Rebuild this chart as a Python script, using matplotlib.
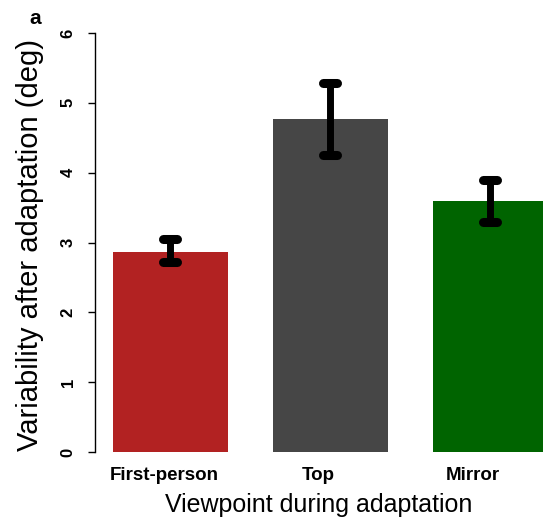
import matplotlib
matplotlib.use('agg')
import matplotlib.pyplot as plt
from matplotlib.transforms import ScaledTranslation

plt.rcParams['font.family'] = ['Liberation Sans', 'DejaVu Sans']

conditions = ["First-person", "Top", "Mirror"]
means = [2.87, 4.77, 3.59]
err_low = [2.72, 4.26, 3.29]
err_high = [3.05, 5.29, 3.89]
colors = ['#B22222', '#464646', '#006400']

fig = plt.figure(figsize=(5.43, 5.21), dpi=100)
# axes placed by hand so the last bar is cut by the right edge like in the reference
ax = fig.add_axes([95 / 543, (521 - 452) / 521, 1 - 95 / 543, (452 - 33) / 521])

x = list(range(len(conditions)))
ax.bar(x, means, width=0.72, color=colors, edgecolor='none')
for xi, lo, hi in zip(x, err_low, err_high):
    ax.plot([xi, xi], [lo, hi], color='black', lw=5, solid_capstyle='butt', zorder=3)
    for yy in (lo, hi):
        ax.plot([xi - 0.045, xi + 0.045], [yy, yy], color='black', lw=6.5,
                solid_capstyle='round', zorder=3)

ax.set_xlim(-0.47, 2.33)
ax.set_ylim(0, 6)
ax.set_yticks(range(7))
ax.set_yticklabels([str(v) for v in range(7)], rotation=90, va='center',
                   fontsize=12, fontweight='bold')
ax.tick_params(axis='y', length=5, width=1, pad=9)
ax.set_xticks(x)
ax.set_xticklabels(conditions, fontsize=13.5, fontweight='bold')
ax.tick_params(axis='x', length=0, pad=11)
# the category names sit a little left of the bar centres in the original
for lbl, dx in zip(ax.get_xticklabels(), [-6, -12, -17]):
    lbl.set_transform(lbl.get_transform() + ScaledTranslation(dx / 100, 0, fig.dpi_scale_trans))

for s in ['top', 'right', 'bottom']:
    ax.spines[s].set_visible(False)
ax.spines['left'].set_linewidth(1)

ax.set_xlabel("Viewpoint during adaptation", fontsize=18)
ax.xaxis.set_label_coords(0.5, -(505 - 452) / 419, transform=ax.transAxes)
ax.xaxis.label.set_va('center')
ax.set_ylabel("Variability after adaptation (deg)", fontsize=21)
ax.yaxis.set_label_coords(-(95 - 30) / 448, (452 - 245) / 419, transform=ax.transAxes)
ax.yaxis.label.set_va('center')
fig.text(35 / 543, 1 - 18 / 521, "a", fontsize=15, fontweight='bold',
         ha='center', va='center')

fig.savefig("out.png", dpi=100)
